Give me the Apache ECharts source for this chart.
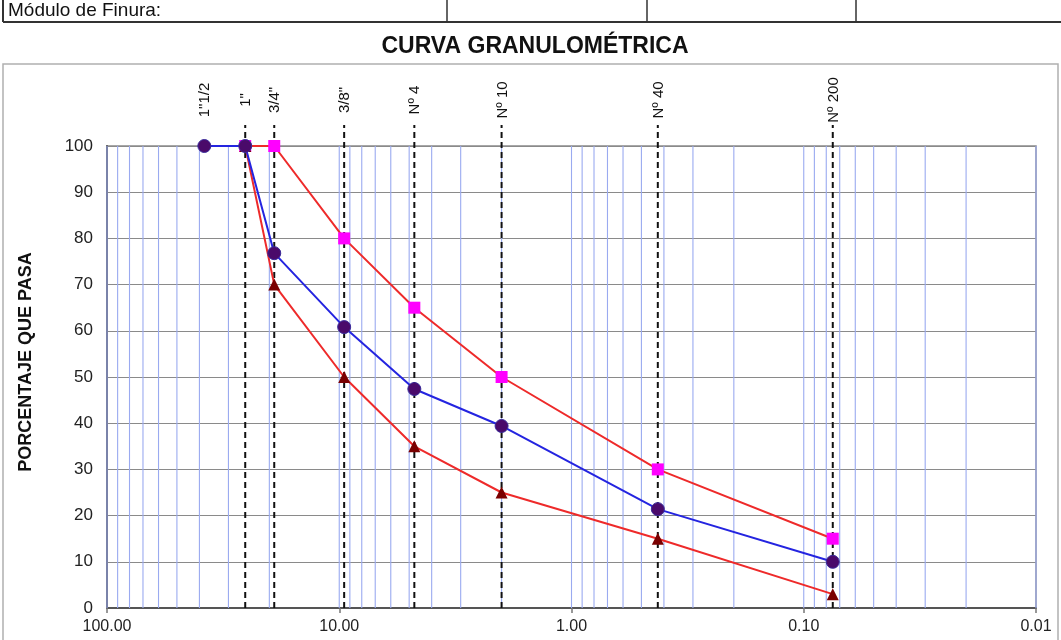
<!DOCTYPE html>
<html>
<head>
<meta charset="utf-8">
<script src="https://cdn.jsdelivr.net/npm/echarts@6/dist/echarts.min.js"></script>
<style>
html,body{margin:0;padding:0;background:#fff;}
#chart{width:1061px;height:640px;}
</style>
</head>
<body>
<div id="chart"></div>
<script>
// ---- data ----
const sieveLabels = ['1"1/2', '1"', '3/4"', '3/8"', 'Nº 4', 'Nº 10', 'Nº 40', 'Nº 200'];
const sieveSizes = [38.1, 25.4, 19.05, 9.525, 4.75, 2.0, 0.425, 0.075];
const sieveDashed = [false, true, true, true, true, true, true, true];
const pasaMuestra = [100, 100, 76.8, 60.8, 47.4, 39.4, 21.4, 10.0];
const limiteSuperior = [null, 100, 100, 80, 65, 50, 30, 15];
const limiteInferior = [null, 100, 70, 50, 35, 25, 15, 3];
const xTickValues = [100, 10, 1, 0.1, 0.01];
const yTicks = [0, 10, 20, 30, 40, 50, 60, 70, 80, 90, 100];
const tableLabel = 'Módulo de Finura:';
const chartTitle = 'CURVA GRANULOMÉTRICA';
const yAxisName = 'PORCENTAJE QUE PASA';

// grid values of the log axis (1..9 x each decade)
const logGrid = [];
for (let d = 0.01; d < 100; d *= 10) {
  for (let m = 1; m <= 9; m++) logGrid.push(+(m * d).toPrecision(3));
}
logGrid.push(100);

const pair = (ys) => sieveSizes.map((x, i) => ys[i] == null ? null : [x, ys[i]]).filter(p => p);

const narrow = "'Liberation Sans Narrow', 'Liberation Sans', Arial, sans-serif";
const regular = "'Liberation Sans', Arial, sans-serif";

const chart = echarts.init(document.getElementById('chart'), null, {renderer: 'canvas'});

const option = {
  backgroundColor: '#fff',
  animation: false,
  grid: {
    left: 107, right: 25, top: 146, bottom: 32,
    show: true, borderColor: '#8a8a8a', borderWidth: 1.5, backgroundColor: 'transparent'
  },
  xAxis: {
    type: 'log', logBase: 10, min: 0.01, max: 100, inverse: true,
    axisLine: {show: true, onZero: false, lineStyle: {color: '#555', width: 2}},
    axisTick: {show: true, length: 5, lineStyle: {color: '#777', width: 1.5}},
    splitLine: {show: false},
    axisLabel: {
      margin: 11, color: '#222', fontSize: 16, fontFamily: narrow,
      formatter: v => (+v).toFixed(2)
    }
  },
  yAxis: {
    type: 'value', min: 0, max: 100, interval: 10,
    axisLine: {show: true, onZero: false, lineStyle: {color: '#555', width: 2}},
    axisTick: {show: false},
    splitLine: {show: true, lineStyle: {color: '#8a8a8a', width: 1.2}},
    axisLabel: {margin: 14, color: '#222', fontSize: 17, fontFamily: narrow}
  },
  graphic: [
    // table row at top
    {type: 'line', shape: {x1: 3, y1: 22, x2: 1061, y2: 22}, style: {stroke: '#333', lineWidth: 2}},
    {type: 'line', shape: {x1: 3, y1: 0, x2: 3, y2: 22}, style: {stroke: '#333', lineWidth: 2}},
    {type: 'line', shape: {x1: 447, y1: 0, x2: 447, y2: 22}, style: {stroke: '#333', lineWidth: 1.5}},
    {type: 'line', shape: {x1: 647, y1: 0, x2: 647, y2: 22}, style: {stroke: '#333', lineWidth: 1.5}},
    {type: 'line', shape: {x1: 856, y1: 0, x2: 856, y2: 22}, style: {stroke: '#333', lineWidth: 1.5}},
    {type: 'text', x: 8, y: 11, style: {text: tableLabel, font: "19px " + regular, fill: '#111', verticalAlign: 'middle'}},
    // title
    {type: 'text', x: 535, y: 47, style: {text: chartTitle, font: "bold 23px " + narrow, fill: '#111', align: 'center', verticalAlign: 'middle'}},
    // outer frame
    {type: 'rect', shape: {x: 3, y: 64, width: 1055, height: 600}, style: {fill: 'none', stroke: '#b0b0b0', lineWidth: 1.5}, z: -1},
    // y axis name
    {type: 'text', x: 26, y: 362, rotation: Math.PI / 2,
     style: {text: yAxisName, font: "bold 18px " + narrow, fill: '#111', align: 'center', verticalAlign: 'middle'}}
  ],
  series: [
    {
      name: 'grid', type: 'custom', silent: true, z: 1,
      data: logGrid.map(v => [v]),
      renderItem: (params, api) => {
        const v = api.value(0);
        const p0 = api.coord([v, 0]);
        const p1 = api.coord([v, 100]);
        return {type: 'line', shape: {x1: p0[0], y1: p0[1], x2: p1[0], y2: p1[1]},
                style: {stroke: '#9aaaf0', lineWidth: 1.1}};
      }
    },
    {
      name: 'tamices', type: 'custom', silent: true, z: 3,
      data: sieveSizes.map((s, i) => [s, i]),
      renderItem: (params, api) => {
        const v = api.value(0);
        const i = api.value(1);
        const p0 = api.coord([v, 0]);
        const p1 = api.coord([v, 100]);
        const children = [];
        if (sieveDashed[i]) {
          children.push({type: 'line', shape: {x1: p0[0], y1: p0[1], x2: p1[0], y2: p1[1] - 21},
            style: {stroke: '#111', lineWidth: 2, lineDash: [6, 4]}});
        }
        children.push({type: 'text', x: p0[0] + 1, y: p1[1] - 46, rotation: Math.PI / 2,
          style: {text: sieveLabels[i], x: 0, y: 0, align: 'center', verticalAlign: 'middle',
                  font: "15px " + regular, fill: '#111'}});
        return {type: 'group', children};
      }
    },
    {
      name: 'Límite superior', type: 'line', z: 5,
      data: pair(limiteSuperior),
      symbol: 'rect', symbolSize: 12,
      itemStyle: {color: '#ff00ff'},
      lineStyle: {color: '#ee2a2a', width: 2}
    },
    {
      name: 'Límite inferior', type: 'line', z: 6,
      data: pair(limiteInferior),
      symbol: 'triangle', symbolSize: 12,
      itemStyle: {color: '#7a0000'},
      lineStyle: {color: '#ee2a2a', width: 2}
    },
    {
      name: 'Muestra', type: 'line', z: 7,
      data: pair(pasaMuestra),
      symbol: 'circle', symbolSize: 13,
      itemStyle: {color: '#4a0a6a', borderColor: '#3a2a9a', borderWidth: 1},
      lineStyle: {color: '#2424e0', width: 2}
    }
  ]
};
chart.setOption(option);
</script>
</body>
</html>
